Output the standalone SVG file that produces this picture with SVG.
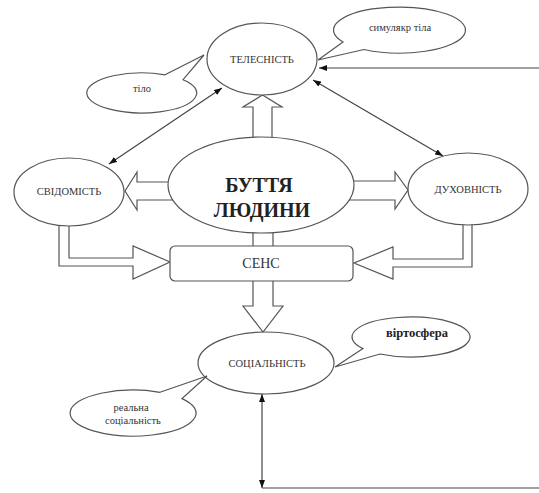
<svg xmlns="http://www.w3.org/2000/svg" width="539" height="493" viewBox="0 0 539 493">
<defs>
<marker id="ah" viewBox="0 0 8 6" refX="8" refY="3" markerWidth="8" markerHeight="6" markerUnits="userSpaceOnUse" orient="auto-start-reverse">
<path d="M0,0 L8,3 L0,6 z" fill="#111"/>
</marker>
<style>
.sh{fill:#fff;stroke:#555;stroke-width:1.2}
.ln{fill:none;stroke:#444;stroke-width:1.2}
text{font-family:"Liberation Serif","DejaVu Serif",serif}
.t{fill:#333;text-anchor:middle;font-size:10.5px}
.big{fill:#222;text-anchor:middle;font-size:20px;font-weight:bold}
.sens{font-size:14px}
.vs{font-size:12.5px;font-weight:bold;fill:#222}
</style>
</defs>
<rect width="539" height="493" fill="#fff"/>
<g id="connectors">
<polygon class="sh" points="253,150 253,107 243,107 262.5,95 282,107 272,107 272,150"/>
<polygon class="sh" points="253,225 253,306 243,306 263,332 283,306 273,306 273,225"/>
<polygon class="sh" points="180,182 137,182 137,172 125,191 137,210 137,200 180,200"/>
<polygon class="sh" points="340,181 395,181 395,172 408,190 395,209 395,200 340,200"/>
<polygon class="sh" points="59,215 59,266 133,266 133,279 170,262 133,246 133,258 69,258 69,215"/>
<polygon class="sh" points="472,215 472,267 393,267 393,279 354,263 393,247 393,259 463,259 463,215"/>
<line class="ln" x1="539" y1="68" x2="319" y2="68" marker-end="url(#ah)"/>
<line class="ln" x1="313" y1="80" x2="443" y2="156" marker-start="url(#ah)" marker-end="url(#ah)"/>
<line class="ln" x1="222" y1="88" x2="109" y2="164" marker-start="url(#ah)" marker-end="url(#ah)"/>
<line class="ln" x1="262" y1="394" x2="262" y2="488" marker-start="url(#ah)" marker-end="url(#ah)"/>
<line class="ln" x1="262" y1="488" x2="539" y2="488"/>
</g>
<g id="telesnist">
<ellipse class="sh" cx="262" cy="59" rx="55" ry="36"/>
<text class="t" x="262" y="63">ТЕЛЕСНІСТЬ</text>
</g>
<g id="symuliakr">
<path class="sh" d="M343,42 L318,60 L364,49.5 A66 23 0 1 0 343,42 Z"/>
<text class="t" x="400" y="31">симулякр тіла</text>
</g>
<g id="tilo">
<path class="sh" d="M165,74.8 L204,55 L183,79.7 A55 20 0 1 1 165,74.8 Z"/>
<text class="t" x="142" y="92">тіло</text>
</g>
<g id="svidomist">
<ellipse class="sh" cx="69" cy="192" rx="55" ry="34"/>
<text class="t" x="69" y="195">СВІДОМІСТЬ</text>
</g>
<g id="buttia">
<ellipse class="sh" cx="261" cy="185" rx="93" ry="48"/>
<text class="big" x="259" y="192">БУТТЯ</text>
<text class="big" x="262" y="217">ЛЮДИНИ</text>
</g>
<g id="dukhovnist">
<ellipse class="sh" cx="468" cy="189" rx="60" ry="36"/>
<text class="t" x="468" y="193">ДУХОВНІСТЬ</text>
</g>
<g id="sens">
<rect class="sh" x="170" y="246" width="183" height="35" rx="5"/>
<text class="t sens" x="261" y="268">СЕНС</text>
</g>
<g id="sotsialnist">
<ellipse class="sh" cx="266" cy="363" rx="68" ry="31"/>
<text class="t" x="267" y="367">СОЦІАЛЬНІСТЬ</text>
</g>
<g id="virtosfera">
<path class="sh" d="M363,348.6 L335,367 L380,354 A59 20 0 1 0 363,348.6 Z"/>
<text class="t vs" x="417" y="337">віртосфера</text>
</g>
<g id="realna">
<path class="sh" d="M160,392.3 L207,376 L182,398.6 A63 23 0 1 1 160,392.3 Z"/>
<text class="t" x="131" y="411">реальна</text>
<text class="t" x="133" y="424">соціальність</text>
</g>
</svg>
